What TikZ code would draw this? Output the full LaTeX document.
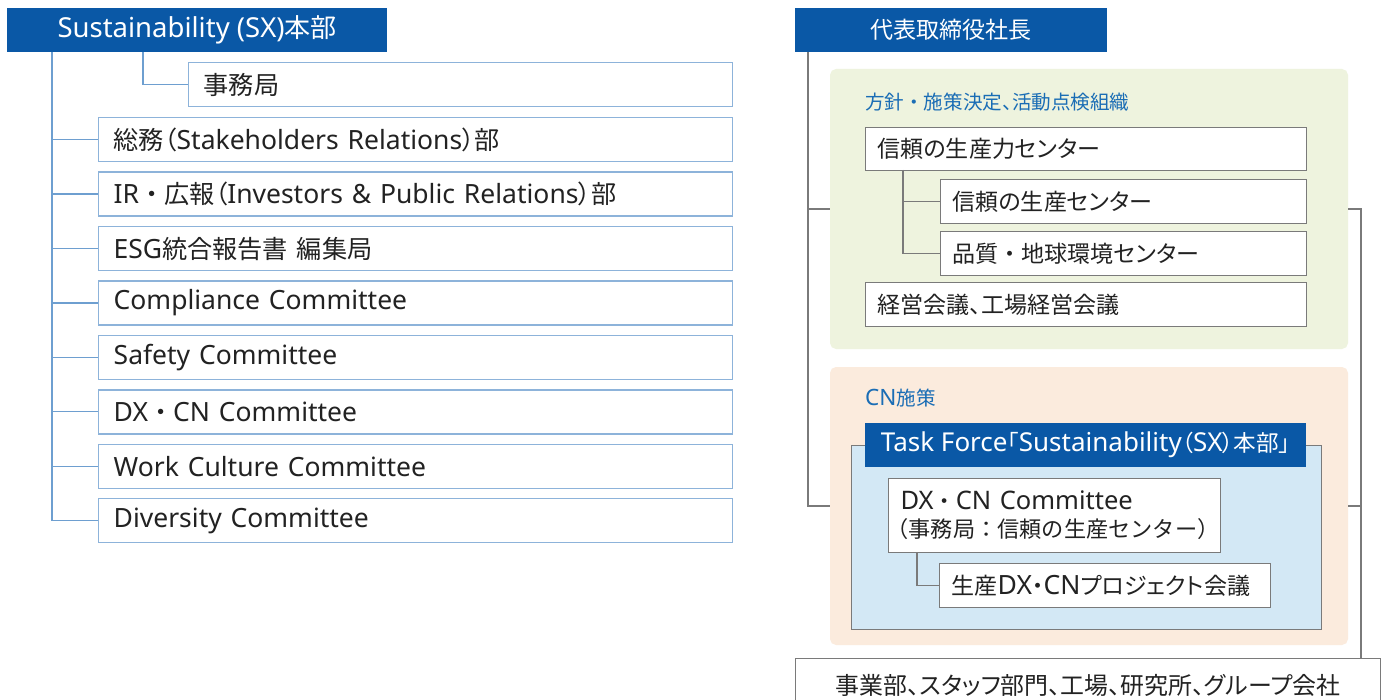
\documentclass[tikz,border=0pt]{standalone}
\usepackage{fontspec}
\setmainfont{Noto Sans}
\newfontfamily\jpL[Scale=0.95,RawFeature={+palt}]{Noto Sans CJK JP}
\newfontfamily\jpR[Scale=0.87,RawFeature={+palt}]{Noto Sans CJK JP}
\newfontfamily\jpLf[Scale=0.95]{Noto Sans CJK JP}
\newfontfamily\jpRf[Scale=0.87]{Noto Sans CJK JP}
\let\jpcur\jpR
\let\jpfull\jpRf
\newcommand{\J}[1]{{\jpcur #1}}
\newcommand{\D}{{\jpfull ・}}
\definecolor{hdrblue}{HTML}{0A58A6}
\definecolor{lboxline}{HTML}{8DB3DA}
\definecolor{lconncol}{HTML}{6E9FD0}
\definecolor{rline}{HTML}{7A7A7A}
\definecolor{gfill}{HTML}{EEF3DE}
\definecolor{ofill}{HTML}{FBEBDD}
\definecolor{lbfill}{HTML}{D3E8F5}
\definecolor{bluetxt}{HTML}{1A6DB5}
\definecolor{txt}{HTML}{222222}
\newcommand{\lfnt}{\let\jpcur\jpL\let\jpfull\jpLf\fontsize{26.5}{30}\selectfont}
\newcommand{\rfnt}{\fontsize{26.5}{29}\selectfont}
\newcommand{\gfnt}{\fontsize{22.5}{26}\selectfont}
\begin{document}
\begin{tikzpicture}[x=1pt,y=-1pt,
  hdr/.style={fill=hdrblue, draw=none, text=white, anchor=north west, inner sep=0pt, align=center},
  lbox/.style={draw=lboxline, line width=1.4pt, fill=white, anchor=north west, inner xsep=15pt, inner ysep=0pt, align=left, text=txt, font=\lfnt, minimum height=44pt},
  rbox/.style={draw=rline, line width=1.2pt, fill=white, anchor=north west, inner xsep=12pt, inner ysep=0pt, align=left, text=txt, font=\rfnt, minimum height=44pt},
  panel/.style={draw=#1, line width=5pt, fill=#1, anchor=north west, inner sep=0pt, rounded corners=4pt},
  lconn/.style={draw=lconncol, line width=1.3pt},
  rconn/.style={draw=rline, line width=1.2pt},
  grouplabel/.style={anchor=west, text=bluetxt, font=\gfnt, inner sep=0pt}]
\useasboundingbox (0,0) rectangle (1383,700);
\fill[white] (0,0) rectangle (1383,700);

% ---------- left side ----------
\node[hdr, minimum width=380pt, minimum height=44pt, font={\let\jpcur\jpL\fontsize{27.5}{30}\selectfont}] (hl) at (7,8) {Sustainability (SX)\J{本部}};
\node[lbox, text width=514pt] (jim) at (188,62) {\J{事務局}};
\node[lbox, text width=604pt] (b1) at (98,117) {\J{総務（}Stakeholders Relations\J{）部}};
\node[lbox, text width=604pt] (b2) at (98,171.4) {IR\D\J{広報（}Investors \& Public Relations\J{）部}};
\node[lbox, text width=604pt] (b3) at (98,225.9) {ESG\J{統合報告書 編集局}};
\node[lbox, text width=604pt] (b4) at (98,280.3) {Compliance Committee};
\node[lbox, text width=604pt] (b5) at (98,334.7) {Safety Committee};
\node[lbox, text width=604pt] (b6) at (98,389.1) {DX\D CN Committee};
\node[lbox, text width=604pt] (b7) at (98,443.6) {Work Culture Committee};
\node[lbox, text width=604pt] (b8) at (98,498) {Diversity Committee};
\coordinate (lx) at (52,52);
\coordinate (sx) at (143,52);
\draw[lconn] (sx) |- (jim.west);
\draw[lconn] (lx) |- (b8.west);
\foreach \b in {b1,b2,b3,b4,b5,b6,b7}{\draw[lconn] (lx |- \b.west) -- (\b.west);}

% ---------- right side ----------
\node[panel=gfill, minimum width=513pt, minimum height=275pt] (gp) at (830,69) {};
\node[panel=ofill, minimum width=513pt, minimum height=273pt] (op) at (830,367) {};
\node[hdr, minimum width=312pt, minimum height=44pt, font=\fontsize{26.5}{30}\selectfont] (hr) at (795,8) {\J{代表取締役社長}};

\node[grouplabel] (glab) at (865,102) {\J{方針}\D\J{施策決定、活動点検組織}};
\node[rbox, text width=417pt, minimum height=43pt] (c1) at (865,127) {\J{信頼の生産力センター}};
\node[rbox, text width=342pt] (c2) at (940,179) {\J{信頼の生産センター}};
\node[rbox, text width=342pt] (c3) at (940,231) {\J{品質}\D\J{地球環境センター}};
\node[rbox, text width=417pt] (c4) at (865,282) {\J{経営会議、工場経営会議}};
\coordinate (cx) at (903,170);
\draw[rconn] (cx) |- (c3.west);
\draw[rconn] (cx |- c2.west) -- (c2.west);

\node[grouplabel] (olab) at (865,398) {CN\J{施策}};
\node[draw=rline, line width=1.2pt, fill=lbfill, anchor=north west, inner sep=0pt, minimum width=470pt, minimum height=184pt] (lbp) at (851,445) {};
\node[hdr, minimum width=441pt, minimum height=44pt, font=\fontsize{26}{29}\selectfont] (tf) at (865,423) {Task Force\J{「}Sustainability\J{（}SX\J{）本部」}};
\node[rbox, text width=308pt, minimum height=74pt, font=\fontsize{25.5}{28}\selectfont] (dx) at (888,478) {DX\D CN Committee\\\hspace*{-14pt}{\jpfull （事務局：信頼の生産センター）}};
\node[rbox, text width=307pt] (px) at (939,563) {\J{生産}DX\J{・}CN\J{プロジェクト会議}};
\coordinate (dxx) at (917,552);
\draw[rconn] (dxx) |- (px.west);

\node[rbox, align=center, text width=561pt, minimum width=585pt, minimum height=54pt, font=\fontsize{27.5}{30}\selectfont] (bot) at (795,658) {\J{事業部、スタッフ部門、工場、研究所、グループ会社}};

\coordinate (rtop) at (808,52);
\coordinate (rbot) at (1361,658);
\draw[rconn] (rtop) |- (op.west);
\draw[rconn] (rtop |- gp.west) -- (gp.west);
\draw[rconn] (gp.east) -| (rbot);
\draw[rconn] (op.east) -- (op.east -| rbot);
\end{tikzpicture}
\end{document}
